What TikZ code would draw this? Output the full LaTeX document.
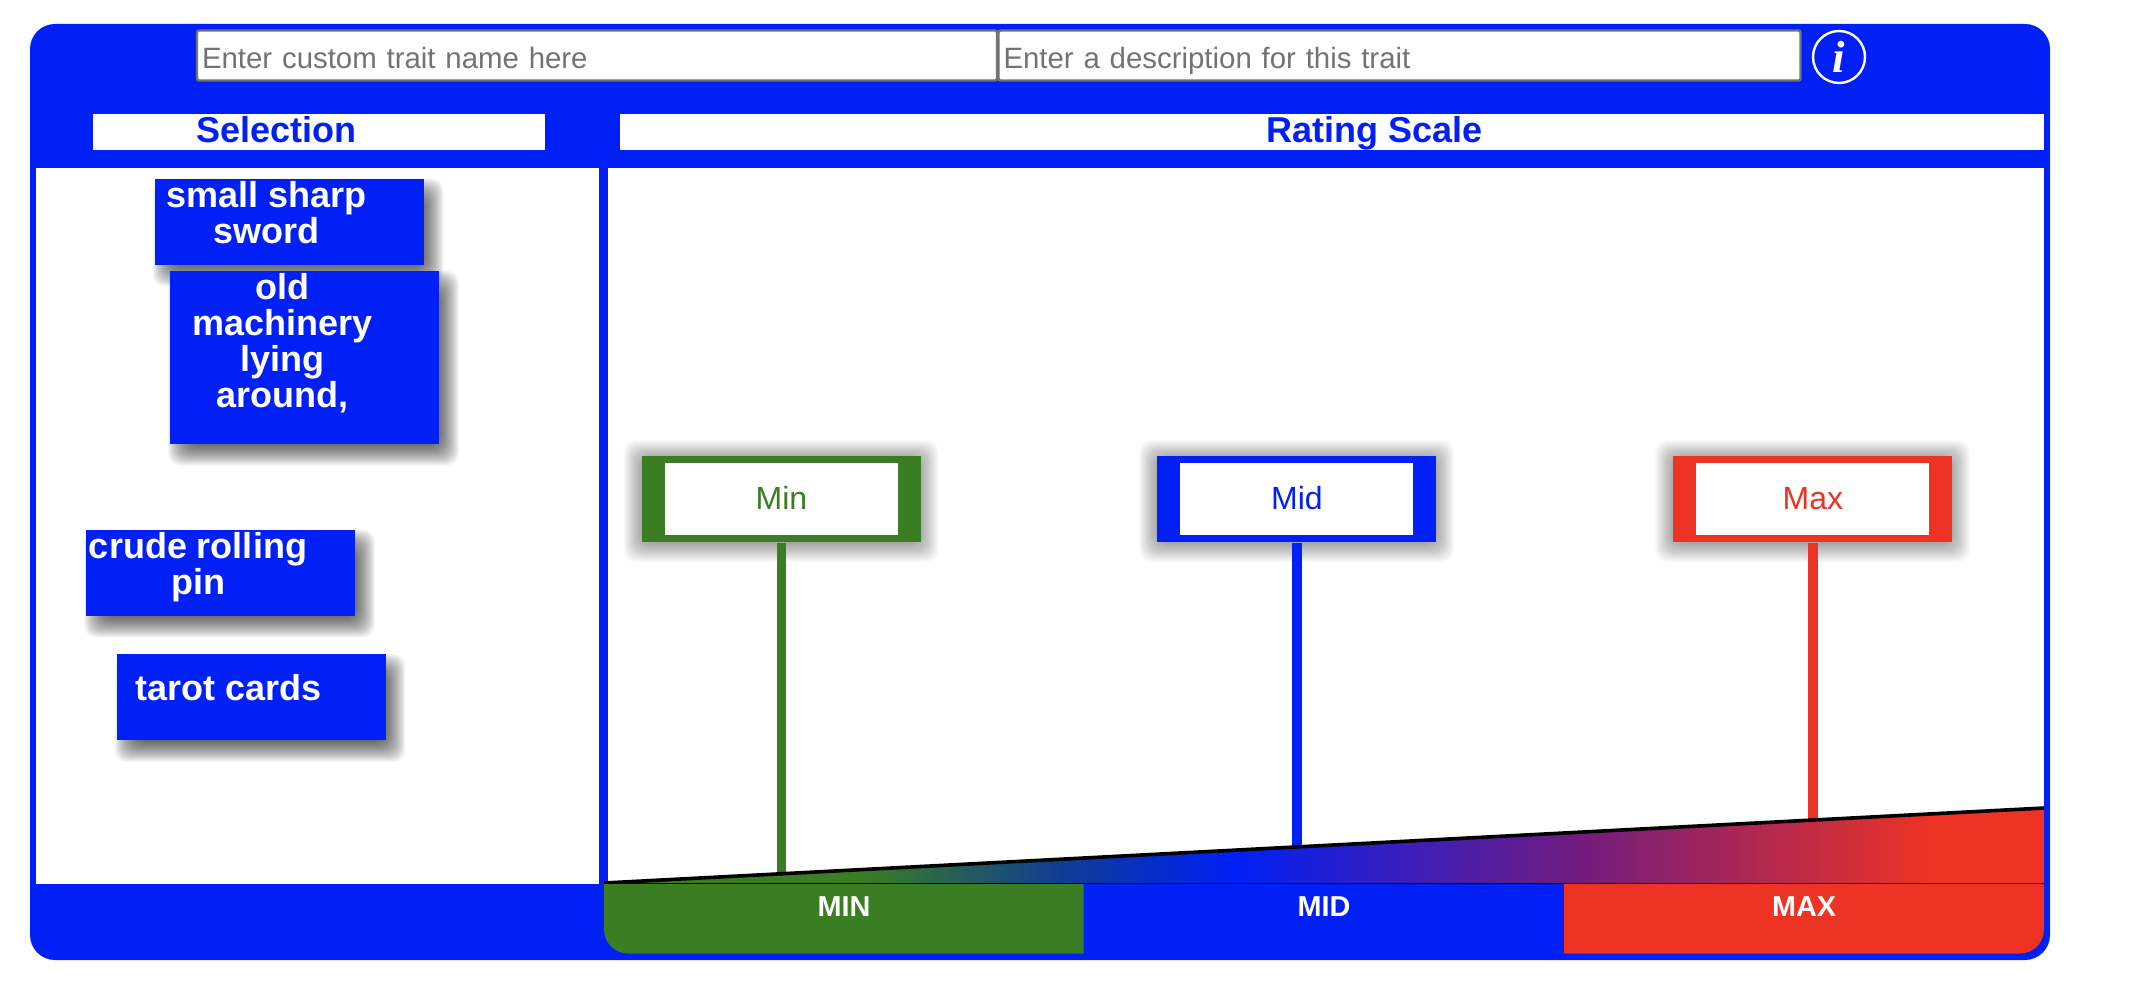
\documentclass[tikz,border=0pt]{standalone}
\usepackage{fontspec}
\setmainfont{Liberation Sans}
\newfontfamily\infofont{Liberation Serif}
\definecolor{panelblue}{HTML}{0020F5}
\definecolor{mingreen}{HTML}{3A7D23}
\definecolor{maxred}{HTML}{EC3324}
\definecolor{rampnavy}{HTML}{0F3C96}
\definecolor{rampviolet}{HTML}{731C7D}
\pgfdeclarehorizontalshading{scalefade}{100bp}{color(0bp)=(mingreen); color(34bp)=(mingreen); color(41bp)=(rampnavy); color(46.8bp)=(panelblue); color(59bp)=(rampviolet); color(71bp)=(maxred); color(100bp)=(maxred)}
% x, y, w, h of the box, then shift x, shift y, spread, opacity of one layer
\newcommand{\softshadow}[8]{%
  \foreach \s in {-#7,...,#7}
    \fill[black, opacity=#8, rounded corners=6pt] ({#1+#5-\s},{#2+#6-\s}) rectangle ({#1+#3+#5+\s},{#2+#4+#6+\s});
}
\tikzset{
  panel/.style={fill=white},
  inputbox/.style={draw=black!55, line width=1.2pt, fill=white, rounded corners=1pt, anchor=north west, outer sep=0pt, inner xsep=2.5pt, inner ysep=0pt, minimum height=25pt, align=left, text=black!55, text height=13.5pt, text depth=0.5pt, font=\fontsize{14.7}{16}\selectfont},
  headtext/.style={anchor=base, text=panelblue, inner sep=0pt, font=\fontsize{18}{18}\selectfont\bfseries},
  chipbox/.style={fill=panelblue, anchor=north west, inner sep=0pt, minimum width=134.5pt, minimum height=43pt},
  chiptext/.style={anchor=base, text=white, inner sep=0pt, font=\fontsize{18}{18}\selectfont\bfseries},
  flagbox/.style={fill=#1, anchor=north west, inner sep=0pt, minimum width=139.5pt, minimum height=43pt},
  flagtext/.style={fill=white, text=#1, inner sep=0pt, minimum width=116.5pt, minimum height=36pt, text height=10.2pt, text depth=0pt, font=\fontsize{16}{16}\selectfont},
  stem/.style={draw=#1, line width=4.7pt},
  barlabel/.style={anchor=base, text=white, inner sep=0pt, font=\fontsize{14.4}{16}\selectfont\bfseries}
}

\begin{document}
\begin{tikzpicture}[x=0.5pt, y=-0.5pt]
  \useasboundingbox (0,0) rectangle (2136,984);

  % Frame and panels
  \fill[panelblue, rounded corners=12.5pt] (30,24) rectangle (2050,960);
  \fill[panel] (35.5,168) rectangle (599,884);
  \fill[panel] (608,168) rectangle (2044,884);
  \fill[panel] (92.5,114) rectangle (545,150);
  \fill[panel] (620,114) rectangle (2044,150);
  \node[headtext] (selection) at (276.5,142.5) {Selection};
  \node[headtext] (rating) at (1374.5,142.5) {Rating Scale};

  % Input row
  \node[inputbox, minimum width=400pt, text width=395pt] (nameinput) at (197,30.5) {Enter custom trait name here};
  \node[inputbox, minimum width=401pt, text width=396pt] (descinput) at (998.5,30.5) {Enter a description for this trait};
  \node[draw=white, line width=1.2pt, circle, minimum size=26pt, inner sep=0pt, text=white, font=\infofont\itshape\bfseries\fontsize{22.5}{23}\selectfont] (info) at (1839,57) {i};

  % Selection chips
  \softshadow{154.5}{178.5}{269}{86}{9}{11}{11}{.035}
  \softshadow{170}{270.5}{269}{173}{9}{11}{11}{.035}
  \softshadow{86}{529.5}{269}{86}{9}{11}{11}{.035}
  \softshadow{116.5}{654}{269}{86}{9}{11}{11}{.035}
  \node[chipbox] (sword) at (154.5,178.5) {};
  \node[chipbox, minimum height=86.5pt] (machinery) at (170,270.5) {};
  \node[chipbox] (pin) at (86,529.5) {};
  \node[chipbox] (tarot) at (116.5,654) {};
  \node[chiptext] at (266.5,207.5) {small sharp};
  \node[chiptext] at (266.5,243.5) {sword};
  \node[chiptext] at (282.5,299.5) {old};
  \node[chiptext] at (282.5,335.5) {machinery};
  \node[chiptext] at (282.5,371.5) {lying};
  \node[chiptext] at (282.5,407.5) {around,};
  \node[chiptext] at (198,558.5) {crude rolling};
  \node[chiptext] at (198,594.5) {pin};
  \node[chiptext] at (228.5,700.5) {tarot cards};

  % Feet of the stems, on the ramp
  \coordinate (minfoot) at (781,875);
  \coordinate (midfoot) at (1296.5,848);
  \coordinate (maxfoot) at (1812.5,821);

  % Flags
  \softshadow{641.5}{456}{279}{86}{0}{2}{18}{.018}
  \softshadow{1157}{456}{279}{86}{0}{2}{18}{.018}
  \softshadow{1673}{456}{279}{86}{0}{2}{18}{.018}
  \node[flagbox=mingreen] (minflag) at (641.5,456) {};
  \node[flagbox=panelblue] (midflag) at (1157,456) {};
  \node[flagbox=maxred] (maxflag) at (1673,456) {};
  \draw[stem=mingreen] (minflag.south) -- (minflag.south |- minfoot);
  \draw[stem=panelblue] (midflag.south) -- (midflag.south |- midfoot);
  \draw[stem=maxred] (maxflag.south) -- (maxflag.south |- maxfoot);
  \node[flagtext=mingreen] (minname) at (minflag.center) {Min};
  \node[flagtext=panelblue] (midname) at (midflag.center) {Mid};
  \node[flagtext=maxred] (maxname) at (maxflag.center) {Max};

  % Ramp
  \shade[shading=scalefade] (604,883) -- (2044,808) -- (2044,883) -- cycle;
  \draw[black, line width=1.8pt] (604,883) -- (2044,808);
  \draw[black, line width=0.7pt] (604,883.5) -- (2044,883.5);

  % Bars under the ramp
  \fill[mingreen] (604,884) [rounded corners=12pt] -- (604,953.5) [sharp corners] -- (1083.5,953.5) -- (1083.5,884) -- cycle;
  \fill[panelblue] (1083.5,884) rectangle (1564,953.5);
  \fill[maxred] (1564,884) -- (2044,884) [rounded corners=12pt] -- (2044,953.5) [sharp corners] -- (1564,953.5) -- cycle;
  \node[barlabel] (minbar) at (844,916) {MIN};
  \node[barlabel] (midbar) at (1324,916) {MID};
  \node[barlabel] (maxbar) at (1804,916) {MAX};
\end{tikzpicture}
\end{document}
